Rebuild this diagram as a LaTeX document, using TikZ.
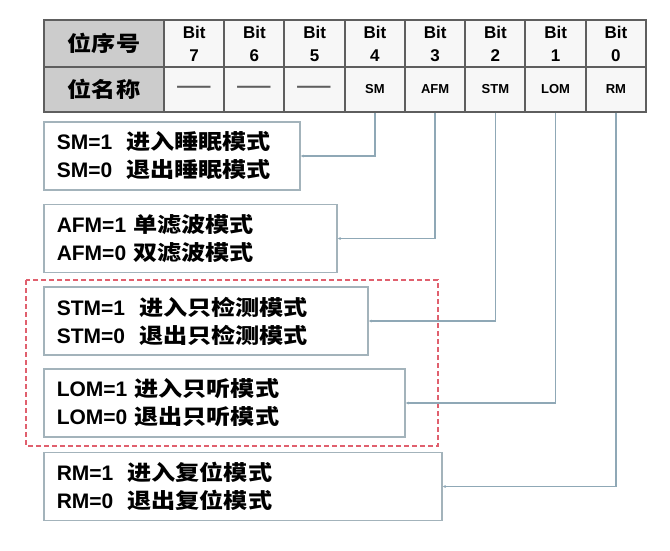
\documentclass[tikz,border=0pt]{standalone}
\usepackage{fontspec}
\setmainfont{Liberation Sans}
\newfontfamily\cjk{Noto Sans CJK SC}[FakeStretch=1.15]
\usepackage{tikz}
\usetikzlibrary{arrows.meta}

\definecolor{cellline}{HTML}{5E5E5E}
\definecolor{boxline}{HTML}{A3B3BB}
\definecolor{linkline}{HTML}{8FA8B6}
\definecolor{groupline}{HTML}{E0606E}

\begin{document}
\begin{tikzpicture}[x = 1pt, y = -1pt,
                        headcell/.style = {draw = cellline, line width = 2pt, fill = gray!40, inner sep = 0pt,
                                           minimum width = 120pt, font = \cjk\bfseries\fontsize{21}{21}\selectfont},
                        cell/.style = {draw = cellline, line width = 2pt, fill = gray!6, inner sep = 0pt,
                                       minimum width = 60.25pt, align = center},
                        bitcell/.style = {cell, minimum height = 47pt, font = \bfseries\fontsize{17}{23}\selectfont},
                        namecell/.style = {cell, minimum height = 45pt, font = \bfseries\fontsize{13}{13}\selectfont},
                        dashcell/.style = {namecell, text = cellline, font = \cjk\bfseries\fontsize{18}{18}\selectfont},
                        modebox/.style = {draw = boxline, line width = 1.5pt, fill = white, anchor = west,
                                          minimum height = 68pt, inner xsep = 13pt, align = left,
                                          font = \bfseries\fontsize{21}{28}\selectfont},
                        link/.style = {draw = linkline, line width = 1.3pt, -{Latex[length = 3pt, width = 3pt]}},
                        group/.style = {draw = groupline, line width = 1.5pt, dash pattern = on 5pt off 3pt}]
      \useasboundingbox (0, 0) rectangle (670, 550);
      % register table
      \node [headcell, minimum height = 47pt] (h1) at (104, 43.5){位序号};
      \node [headcell, minimum height = 45pt] (h2) at (104, 89.5){位名称};
      \node [bitcell] (b7) at (194.1, 43.5){Bit\\7};
      \node [bitcell] (b6) at (254.4, 43.5){Bit\\6};
      \node [bitcell] (b5) at (314.6, 43.5){Bit\\5};
      \node [bitcell] (b4) at (374.9, 43.5){Bit\\4};
      \node [bitcell] (b3) at (435.1, 43.5){Bit\\3};
      \node [bitcell] (b2) at (495.4, 43.5){Bit\\2};
      \node [bitcell] (b1) at (555.6, 43.5){Bit\\1};
      \node [bitcell] (b0) at (615.9, 43.5){Bit\\0};
      \node [dashcell] (n7) at (194.1, 89.5){——};
      \node [dashcell] (n6) at (254.4, 89.5){——};
      \node [dashcell] (n5) at (314.6, 89.5){——};
      \node [namecell] (n4) at (374.9, 89.5){SM};
      \node [namecell] (n3) at (435.1, 89.5){AFM};
      \node [namecell] (n2) at (495.4, 89.5){STM};
      \node [namecell] (n1) at (555.6, 89.5){LOM};
      \node [namecell] (n0) at (615.9, 89.5){RM};
      % mode boxes
      \draw [group] (26, 280) rectangle (438, 446);
      \node [modebox, text width = 230pt] (sm) at (43, 156){SM=1\ \ {\cjk 进入睡眠模式}\\SM=0\ \ {\cjk 退出睡眠模式}};
      \node [modebox, text width = 267pt] (afm) at (43, 238.5){AFM=1 {\cjk 单滤波模式}\\AFM=0 {\cjk 双滤波模式}};
      \node [modebox, text width = 298pt] (stm) at (43, 321){STM=1\ \ {\cjk 进入只检测模式}\\STM=0\ \ {\cjk 退出只检测模式}};
      \node [modebox, text width = 335pt] (lom) at (43, 403){LOM=1 {\cjk 进入只听模式}\\LOM=0 {\cjk 退出只听模式}};
      \node [modebox, text width = 372pt] (rm) at (43, 486.5){RM=1\ \ {\cjk 进入复位模式}\\RM=0\ \ {\cjk 退出复位模式}};
      \draw [link] (n4.south) |- (sm.east);
      \draw [link] (n3.south) |- (afm.east);
      \draw [link] (n2.south) |- (stm.east);
      \draw [link] (n1.south) |- (lom.east);
      \draw [link] (n0.south) |- (rm.east);
    \end{tikzpicture}
\end{document}
